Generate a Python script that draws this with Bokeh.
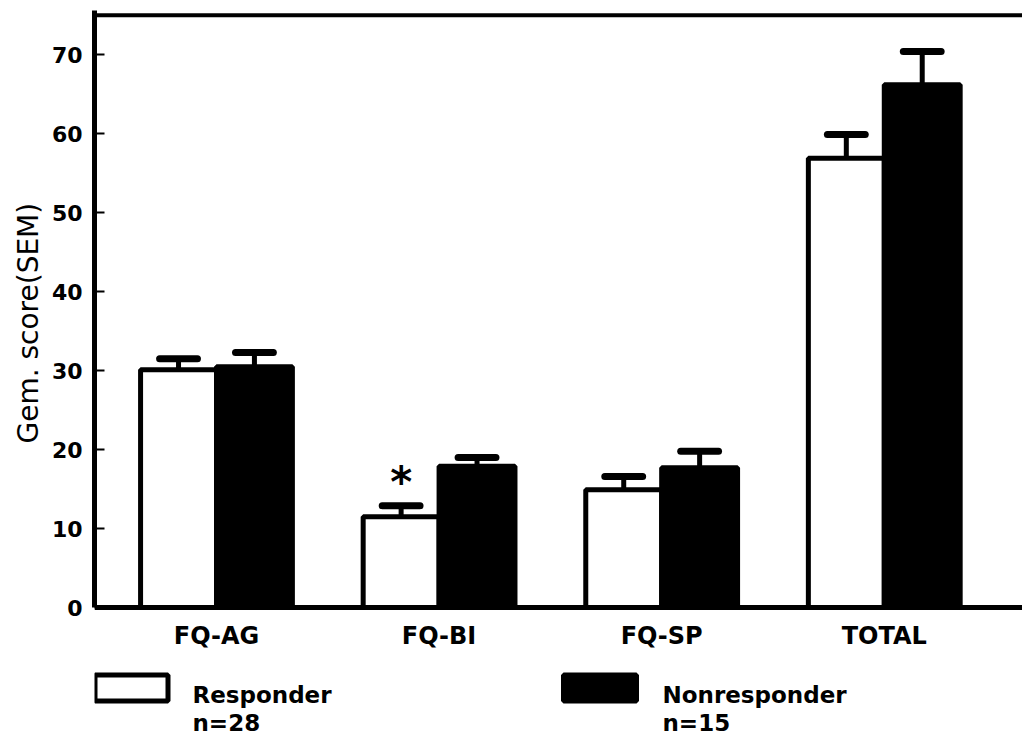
from bokeh.plotting import figure
from bokeh.models import Range1d, FixedTicker, Span, ColumnDataSource, Label, LinearAxis, Title
from bokeh.core.properties import value
from bokeh.embed import file_html
from bokeh.resources import INLINE

# ---- data ----
categories = ["FQ-AG", "FQ-BI", "FQ-SP", "TOTAL"]
responder_mean = [30.1, 11.5, 14.9, 56.9]
responder_sem = [1.4, 1.4, 1.7, 3.0]
nonresponder_mean = [30.5, 17.9, 17.7, 66.2]
nonresponder_sem = [1.8, 1.1, 2.1, 4.2]
y_ticks = [0, 10, 20, 30, 40, 50, 60, 70]
y_title = "Gem. score(SEM)"
group_names = ["Responder", "Nonresponder"]
group_n = ["n=28", "n=15"]
group_fill = ["white", "black"]
significant = ["FQ-BI"]  # responder differs (asterisk)

FONT = "DejaVu Sans"
BAR_W = 0.341
CAP_HALF = 0.085
W, H = 1022, 740

# frame geometry (pixels)
LEFT, TOP = 94, 10
X0, X1 = 0.452, 4.621
Y1 = 75.6
PX_Y = 7.897                       # pixels per y unit
Y0 = -(H - TOP - Y1 * PX_Y) / PX_Y  # range bottom so legend fits in frame
PX_X = (W - LEFT) / (X1 - X0)


def sx(px):
    return X0 + (px - LEFT) / PX_X


def sy(py):
    return Y1 - (py - TOP) / PX_Y


xpos = list(range(1, len(categories) + 1))
x_resp = [x - BAR_W / 2 for x in xpos]
x_non = [x + BAR_W / 2 for x in xpos]

p = figure(width=W, height=H, output_backend="svg", toolbar_location=None,
           x_range=Range1d(X0, X1), y_range=Range1d(Y0, Y1),
           x_axis_location=None,
           min_border_left=LEFT, min_border_right=0, min_border_top=TOP, min_border_bottom=0)
p.outline_line_color = None
p.xgrid.visible = False
p.ygrid.visible = False
p.background_fill_color = "white"

src_r = ColumnDataSource(dict(x=x_resp, top=responder_mean,
                              cap=[m + s for m, s in zip(responder_mean, responder_sem)]))
src_n = ColumnDataSource(dict(x=x_non, top=nonresponder_mean,
                              cap=[m + s for m, s in zip(nonresponder_mean, nonresponder_sem)]))

for src, fill in ((src_r, group_fill[0]), (src_n, group_fill[1])):
    p.segment(x0="x", y0="top", x1="x", y1="cap", source=src, line_color="black",
              line_width=5, line_cap="butt")
    p.vbar(x="x", top="top", bottom=0, width=BAR_W, source=src, fill_color=fill,
           line_color="black", line_width=5)
    src.data["cl"] = [x - CAP_HALF for x in src.data["x"]]
    src.data["cr"] = [x + CAP_HALF for x in src.data["x"]]
    p.segment(x0="cl", y0="cap", x1="cr", y1="cap", source=src, line_color="black",
              line_width=7, line_cap="round")

# significance asterisk
for cat in significant:
    i = categories.index(cat)
    p.add_layout(Label(x=x_resp[i], y=responder_mean[i] + responder_sem[i], y_offset=23,
                       text="*", text_font=FONT, text_font_size="42px", text_font_style="bold",
                       text_align="center", text_baseline="alphabetic", text_color="black"))

# top frame line
p.add_layout(Span(location=75.0, dimension="width", line_color="black", line_width=4))

# x axis fixed at y = 0 (frame continues below for the legend)
xax = LinearAxis(fixed_location=0)
xax.ticker = FixedTicker(ticks=xpos)
xax.major_label_overrides = {x: c for x, c in zip(xpos, categories)}
xax.major_tick_line_color = None
xax.minor_tick_line_color = None
xax.axis_line_width = 5
xax.axis_line_color = "black"
xax.major_label_text_font = FONT
xax.major_label_text_font_size = "24px"
xax.major_label_text_font_style = "bold"
xax.major_label_text_color = "black"
xax.major_label_standoff = 8
p.add_layout(xax, "below")

p.yaxis.bounds = (0, Y1)
p.yaxis.ticker = FixedTicker(ticks=y_ticks)
p.yaxis.minor_tick_line_color = None
p.yaxis.major_tick_in = 10
p.yaxis.major_tick_out = 0
p.yaxis.major_tick_line_width = 2
p.yaxis.major_tick_line_color = "black"
p.yaxis.axis_line_width = 5
p.yaxis.axis_line_color = "black"
p.yaxis.major_label_text_font = FONT
p.yaxis.major_label_text_font_size = "22px"
p.yaxis.major_label_text_font_style = "bold"
p.yaxis.major_label_text_color = "black"
p.yaxis.major_label_standoff = 12

# y-axis title as a side title, starting above the legend area
p.add_layout(Title(text=y_title, align="left", offset=297, standoff=8,
                   text_font=FONT, text_font_size="28px", text_font_style="normal",
                   text_color="black"), "left")

# legend (below the x axis, inside the frame)
box_px = [131, 599.5]
text_px = [192, 662]
p.rect(x=[sx(v) for v in box_px], y=[sy(687.5)] * 2, width=73, height=26,
       width_units="screen", height_units="screen", fill_color=group_fill,
       line_color="black", line_width=5)
p.text(x=[sx(v) for v in text_px], y=[sy(694)] * 2, text=group_names, text_font=value(FONT),
       text_font_size="23px", text_font_style="bold", text_baseline="alphabetic",
       text_color="black")
p.text(x=[sx(v) for v in text_px], y=[sy(722)] * 2, text=group_n, text_font=value(FONT),
       text_font_size="23px", text_font_style="bold", text_baseline="alphabetic",
       text_color="black")

open("out.html", "w").write(file_html(p, INLINE))
